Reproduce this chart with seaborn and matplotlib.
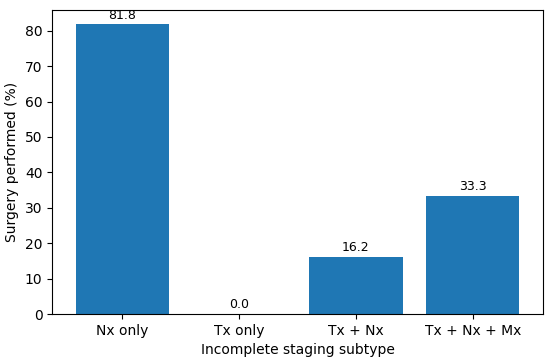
import matplotlib
matplotlib.use("Agg")
import matplotlib.pyplot as plt
import seaborn as sns
import pandas as pd

# data
subtypes = ["Nx only", "Tx only", "Tx + Nx", "Tx + Nx + Mx"]
surgery_pct = [81.8, 0.0, 16.2, 33.3]

df = pd.DataFrame({"subtype": subtypes, "pct": surgery_pct})

fig, ax = plt.subplots(figsize=(5.5, 3.64), dpi=100)
sns.barplot(data=df, x="subtype", y="pct", color="#1f77b4", saturation=1,
            width=0.8, errorbar=None, ax=ax)

for cont in ax.containers:
    ax.bar_label(cont, fmt="%.1f", padding=2, fontsize=9)

ax.set_xlim(-0.6, 3.6)
ax.set_ylim(0, max(surgery_pct) * 1.05)
ax.set_xlabel("Incomplete staging subtype")
ax.set_ylabel("Surgery performed (%)")

plt.subplots_adjust(left=0.095, right=0.987, top=0.973, bottom=0.137)
fig.savefig("out.png", dpi=100)
